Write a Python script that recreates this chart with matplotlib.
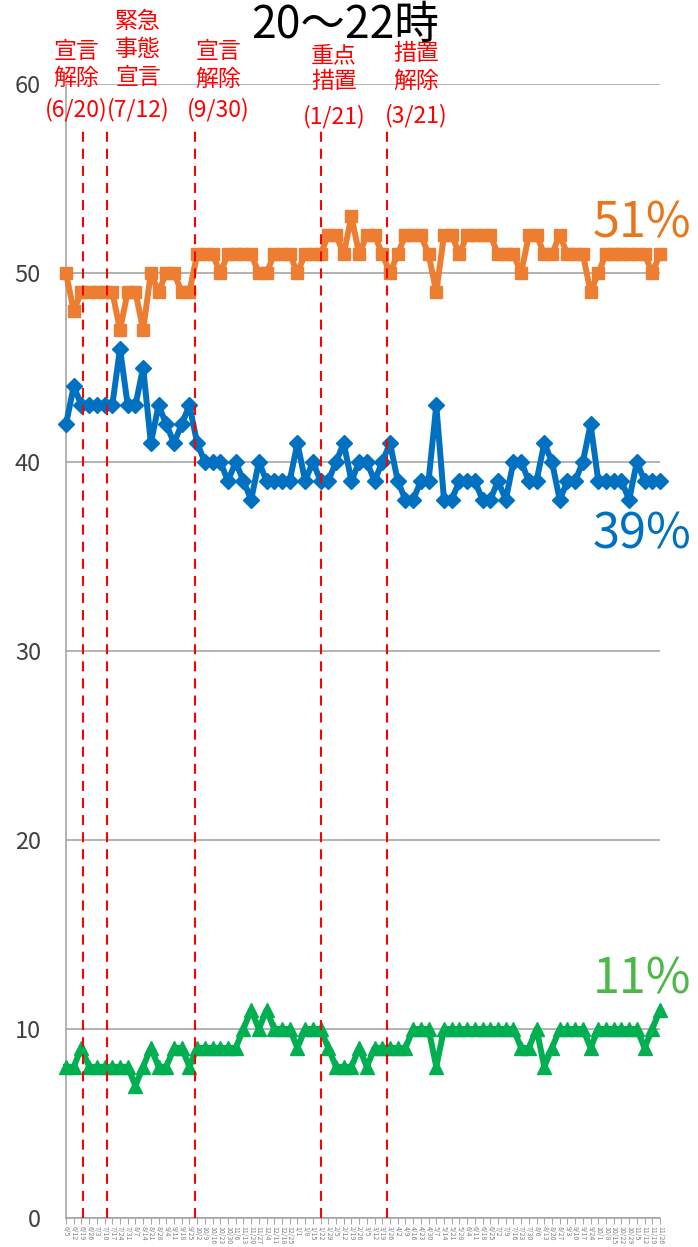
import matplotlib.pyplot as plt
import pandas as pd

plt.rcParams['font.family'] = ['Noto Sans CJK JP', 'DejaVu Sans']

# weekly survey, 20-22h
dates = pd.date_range('2021-06-05', periods=78, freq='7D')

orange = [50, 48, 49, 49, 49, 49, 49, 47, 49, 49,
          47, 50, 49, 50, 50, 49, 49, 51, 51, 51,
          50, 51, 51, 51, 51, 50, 50, 51, 51, 51,
          50, 51, 51, 51, 52, 52, 51, 53, 51, 52,
          52, 51, 50, 51, 52, 52, 52, 51, 49, 52,
          52, 51, 52, 52, 52, 52, 51, 51, 51, 50,
          52, 52, 51, 51, 52, 51, 51, 51, 49, 50,
          51, 51, 51, 51, 51, 51, 50, 51]
blue = [42, 44, 43, 43, 43, 43, 43, 46, 43, 43,
        45, 41, 43, 42, 41, 42, 43, 41, 40, 40,
        40, 39, 40, 39, 38, 40, 39, 39, 39, 39,
        41, 39, 40, 39, 39, 40, 41, 39, 40, 40,
        39, 40, 41, 39, 38, 38, 39, 39, 43, 38,
        38, 39, 39, 39, 38, 38, 39, 38, 40, 40,
        39, 39, 41, 40, 38, 39, 39, 40, 42, 39,
        39, 39, 39, 38, 40, 39, 39, 39]
green = [8, 8, 9, 8, 8, 8, 8, 8, 8, 7,
         8, 9, 8, 8, 9, 9, 8, 9, 9, 9,
         9, 9, 9, 10, 11, 10, 11, 10, 10, 10,
         9, 10, 10, 10, 9, 8, 8, 8, 9, 8,
         9, 9, 9, 9, 9, 10, 10, 10, 8, 10,
         10, 10, 10, 10, 10, 10, 10, 10, 10, 9,
         9, 10, 8, 9, 10, 10, 10, 10, 9, 10,
         10, 10, 10, 10, 10, 9, 10, 11]

events = pd.to_datetime(['2021-06-20', '2021-07-12', '2021-09-30',
                         '2022-01-22', '2022-03-23'])
event_labels = [['宣言', '解除', '(6/20)'],
                ['緊急', '事態', '宣言', '(7/12)'],
                ['宣言', '解除', '(9/30)'],
                ['重点', '措置', '(1/21)'],
                ['措置', '解除', '(3/21)']]
end_labels = ['51%', '39%', '11%']

W, H = 698, 1247
fig = plt.figure(figsize=(W / 100, H / 100), dpi=100)
ax = fig.add_axes([66 / W, 1 - 1218 / H, 594 / W, 1134 / H])

ax.plot(dates, orange, color='#ED7D31', lw=4.3, marker='s', ms=8, clip_on=False, zorder=3)
ax.plot(dates, blue, color='#0070C0', lw=4.3, marker='D', ms=8, clip_on=False, zorder=3)
ax.plot(dates, green, color='#00B050', lw=4.3, marker='^', ms=10.5, clip_on=False, zorder=3)

for d in events:
    ax.plot([d, d], [0, 57.7], color='#FF0000', lw=1.5, ls=(0, (4.8, 3.4)),
            clip_on=False, zorder=5)

ax.set_xlim(dates[0], dates[-1])
ax.set_ylim(0, 60)
ax.set_yticks(range(0, 61, 10))
ax.yaxis.grid(True, color='#A6A6A6', lw=1.2)
ax.set_axisbelow(True)
for s in ['top', 'right']:
    ax.spines[s].set_visible(False)
ax.spines['left'].set_color('#A6A6A6')
ax.spines['bottom'].set_color('#A6A6A6')
ax.spines['left'].set_linewidth(1.2)
ax.spines['bottom'].set_linewidth(1.2)

ax.set_xticks(dates)
ax.set_xticklabels([f'{d.month}/{d.day}' for d in dates], rotation=270,
                   fontsize=5, color='#7F7F7F')
ax.tick_params(axis='x', length=4, color='#A6A6A6', pad=2)
ax.tick_params(axis='y', length=0, pad=18, labelsize=17, labelcolor='#404040')

# event annotations (one text per line)
ann_x = [76, 138, 218, 334, 416]
ann_y = [[51, 78, 110], [21, 50, 78, 110], [51, 79, 110], [56, 82, 117], [53, 81, 116]]
for lines, x, ys in zip(event_labels, ann_x, ann_y):
    for s, y in zip(lines, ys):
        fig.text(x / W, 1 - y / H, s, color='#FF0000', fontsize=16.5,
                 ha='center', va='center')

fig.text(345 / W, 1 - 2 / H, '20～22時', fontsize=32, ha='center', va='top')

end_colors = ['#E8761C', '#0070C0', '#4CB848']
end_y = [224, 535, 980]
for s, c, y in zip(end_labels, end_colors, end_y):
    fig.text(642 / W, 1 - y / H, s, color=c, fontsize=35, ha='center', va='center')

fig.savefig('out.png', dpi=100)
